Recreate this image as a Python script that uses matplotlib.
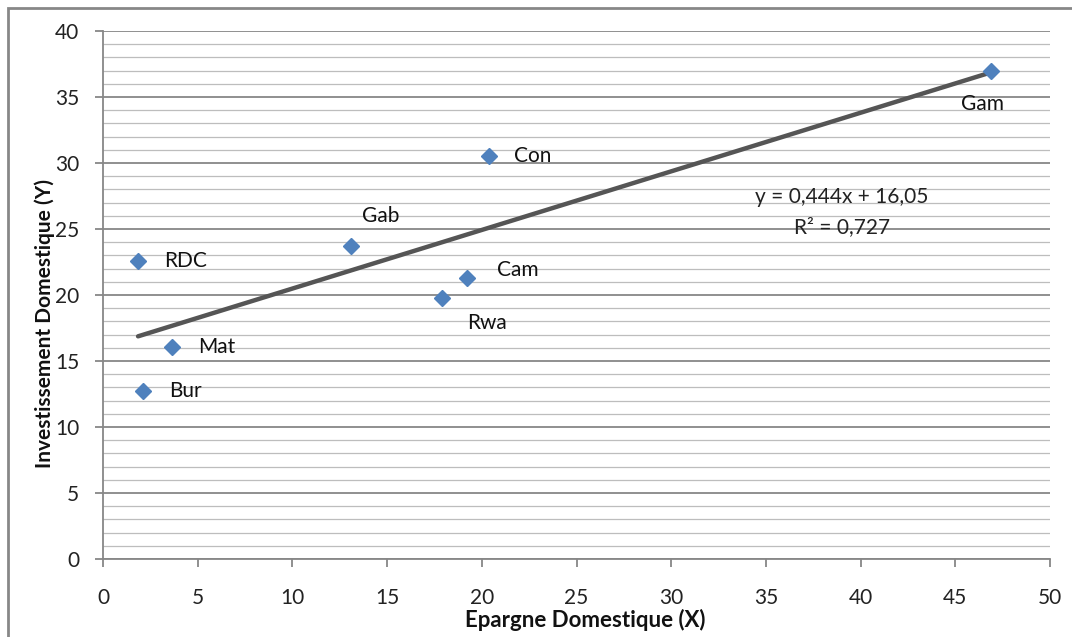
import numpy as np
import matplotlib
matplotlib.use('Agg')
import matplotlib.pyplot as plt
from matplotlib.patches import Rectangle
from matplotlib.ticker import MultipleLocator

plt.rcParams['font.family'] = ['Lato', 'DejaVu Sans']

# data
pays = ['RDC', 'Bur', 'Mat', 'Gab', 'Rwa', 'Cam', 'Con', 'Gam']
epargne = [1.85, 2.1, 3.65, 13.1, 17.9, 19.2, 20.4, 46.9]
investissement = [22.6, 12.7, 16.1, 23.7, 19.8, 21.3, 30.5, 37.0]

# trendline as printed on the chart
pente = 0.444
constante = 16.05
r2 = 0.727

# label offsets (points) relative to each marker
decalages = [(19, 0), (19, 0), (19, 0), (8, 22), (18, -18), (22, 6), (18, 0), (-22, -24)]

gris = '#878787'
bleu = '#4f81bd'

fig = plt.figure(figsize=(10.72, 6.37), dpi=100)
ax = fig.add_axes([0.0961, 0.1224, 0.8834, 0.8289])

ax.set_xlim(0, 50)
ax.set_ylim(0, 40)
ax.xaxis.set_major_locator(MultipleLocator(5))
ax.yaxis.set_major_locator(MultipleLocator(5))
ax.yaxis.set_minor_locator(MultipleLocator(1))

ax.grid(axis='y', which='major', color=gris, lw=1.3)
ax.grid(axis='y', which='minor', color='#bdbdbd', lw=0.9)
ax.set_axisbelow(True)

for s in ['top', 'right']:
    ax.spines[s].set_visible(False)
for s in ['left', 'bottom']:
    ax.spines[s].set_color(gris)
    ax.spines[s].set_linewidth(1.3)

ax.tick_params(axis='both', which='major', direction='out', length=6, width=1.3,
               color=gris, labelsize=15, labelcolor='#222222')
ax.tick_params(axis='y', which='major', pad=11)
ax.tick_params(axis='x', which='major', pad=15)
ax.tick_params(axis='y', which='minor', length=0)

# trendline
xs = np.array([min(epargne), max(epargne)])
ax.plot(xs, pente * xs + constante, color='#555555', lw=3.2, solid_capstyle='round', zorder=3)

ax.plot(epargne, investissement, 'D', color=bleu, ms=8.5, mec=bleu, zorder=4)

for nom, x, y, d in zip(pays, epargne, investissement, decalages):
    ax.annotate(nom, (x, y), xytext=d, textcoords='offset points',
                ha='left', va='center', fontsize=15, color='#111111')

eq = 'y = ' + f'{pente:.3f}'.replace('.', ',') + 'x + ' + f'{constante:.2f}'.replace('.', ',')
fig.text(842 / 1072, 1 - 197 / 637, eq, ha='center', va='center', fontsize=15, color='#222222')
fig.text(842 / 1072, 1 - 227 / 637, 'R² = ' + f'{r2:.3f}'.replace('.', ','),
         ha='center', va='center', fontsize=15, color='#222222')

fig.text(585 / 1072, 1 - 620 / 637, 'Epargne Domestique (X)', ha='center', va='center',
         fontsize=16, fontweight='bold', color='#111111')
fig.text(45 / 1072, 1 - 323 / 637, 'Investissement Domestique (Y)', ha='center', va='center',
         rotation=90, fontsize=15, fontweight='bold', color='#111111')

# outer chart frame (cropped at right and bottom)
fig.patches.append(Rectangle((8 / 1072, -0.1), 1.2, 1.1 - 8 / 637, transform=fig.transFigure,
                             fill=False, edgecolor=gris, lw=2))

fig.savefig('out.png', dpi=100)
